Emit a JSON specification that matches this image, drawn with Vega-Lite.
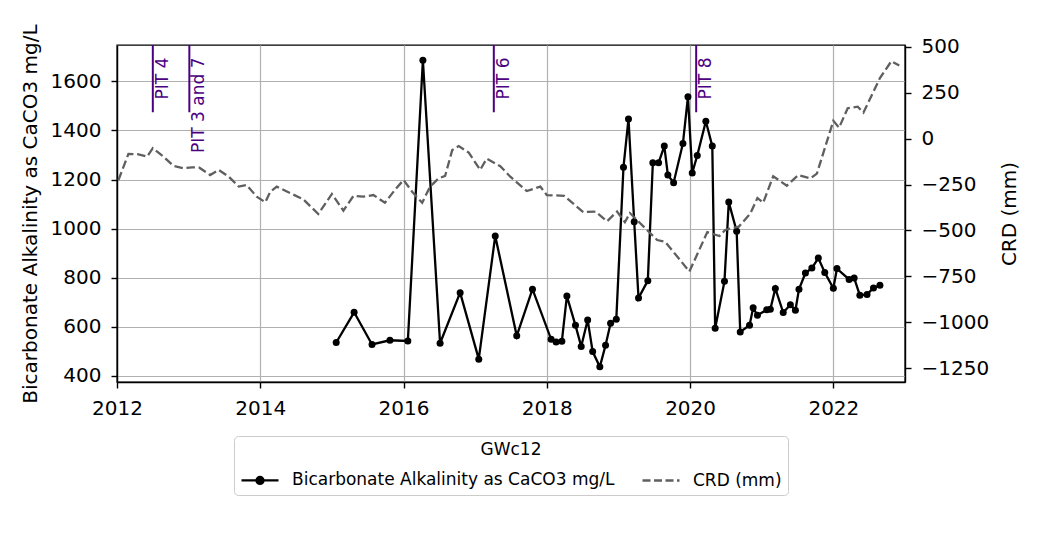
{
  "$schema": "https://vega.github.io/schema/vega-lite/v6.json",
  "width": 788,
  "height": 337,
  "autosize": {"type": "none"},
  "padding": {"left": 117, "top": 45, "right": 144, "bottom": 158},
  "background": "white",
  "config": {
    "font": "DejaVu Sans",
    "view": {"stroke": "black", "strokeWidth": 1.4},
    "axis": {
      "labelFont": "DejaVu Sans", "labelFontSize": 20, "labelColor": "black",
      "titleFont": "DejaVu Sans", "titleFontSize": 20, "titleFontWeight": "normal", "titleColor": "black",
      "domainColor": "black", "domainWidth": 1.4, "tickColor": "black", "tickWidth": 1.4, "tickSize": 6,
      "labelPadding": 10, "gridColor": "#b0b0b0", "gridWidth": 1.2, "gridOpacity": 1, "labelFlush": false
    }
  },
  "datasets": {
    "alk": [
      {"year": 2015.06, "value": 536}, {"year": 2015.31, "value": 659}, {"year": 2015.56, "value": 528},
      {"year": 2015.81, "value": 545}, {"year": 2016.06, "value": 542}, {"year": 2016.27, "value": 1686},
      {"year": 2016.51, "value": 533}, {"year": 2016.79, "value": 739}, {"year": 2017.05, "value": 468},
      {"year": 2017.28, "value": 970}, {"year": 2017.58, "value": 563}, {"year": 2017.80, "value": 753},
      {"year": 2018.06, "value": 549}, {"year": 2018.13, "value": 538}, {"year": 2018.21, "value": 541},
      {"year": 2018.28, "value": 725}, {"year": 2018.40, "value": 606}, {"year": 2018.48, "value": 520},
      {"year": 2018.57, "value": 628}, {"year": 2018.64, "value": 499}, {"year": 2018.74, "value": 437},
      {"year": 2018.82, "value": 525}, {"year": 2018.89, "value": 614}, {"year": 2018.97, "value": 631},
      {"year": 2019.07, "value": 1250}, {"year": 2019.14, "value": 1447}, {"year": 2019.22, "value": 1028},
      {"year": 2019.28, "value": 717}, {"year": 2019.41, "value": 788}, {"year": 2019.48, "value": 1268},
      {"year": 2019.56, "value": 1268}, {"year": 2019.64, "value": 1336}, {"year": 2019.69, "value": 1218},
      {"year": 2019.77, "value": 1187}, {"year": 2019.90, "value": 1347}, {"year": 2019.97, "value": 1537},
      {"year": 2020.03, "value": 1227}, {"year": 2020.10, "value": 1298}, {"year": 2020.22, "value": 1437},
      {"year": 2020.31, "value": 1336}, {"year": 2020.35, "value": 594}, {"year": 2020.48, "value": 785},
      {"year": 2020.54, "value": 1108}, {"year": 2020.65, "value": 989}, {"year": 2020.70, "value": 579},
      {"year": 2020.83, "value": 606}, {"year": 2020.88, "value": 677}, {"year": 2020.94, "value": 647},
      {"year": 2021.07, "value": 669}, {"year": 2021.12, "value": 671}, {"year": 2021.19, "value": 756},
      {"year": 2021.30, "value": 658}, {"year": 2021.40, "value": 690}, {"year": 2021.47, "value": 667},
      {"year": 2021.52, "value": 753}, {"year": 2021.61, "value": 819}, {"year": 2021.70, "value": 839},
      {"year": 2021.79, "value": 880}, {"year": 2021.88, "value": 821}, {"year": 2022.00, "value": 757},
      {"year": 2022.05, "value": 837}, {"year": 2022.22, "value": 793}, {"year": 2022.29, "value": 799},
      {"year": 2022.37, "value": 728}, {"year": 2022.47, "value": 732}, {"year": 2022.56, "value": 758},
      {"year": 2022.65, "value": 769}
    ],
    "crd": [
      {"year": 2012.02, "crd": -225}, {"year": 2012.16, "crd": -83}, {"year": 2012.30, "crd": -85},
      {"year": 2012.42, "crd": -98}, {"year": 2012.50, "crd": -52}, {"year": 2012.65, "crd": -98},
      {"year": 2012.79, "crd": -149}, {"year": 2012.93, "crd": -161}, {"year": 2013.05, "crd": -156},
      {"year": 2013.15, "crd": -158}, {"year": 2013.30, "crd": -198}, {"year": 2013.42, "crd": -170},
      {"year": 2013.56, "crd": -207}, {"year": 2013.70, "crd": -261}, {"year": 2013.81, "crd": -252},
      {"year": 2013.95, "crd": -316}, {"year": 2014.07, "crd": -346}, {"year": 2014.14, "crd": -289},
      {"year": 2014.23, "crd": -261}, {"year": 2014.42, "crd": -297}, {"year": 2014.60, "crd": -330},
      {"year": 2014.81, "crd": -410}, {"year": 2015.00, "crd": -301}, {"year": 2015.16, "crd": -392},
      {"year": 2015.30, "crd": -312}, {"year": 2015.44, "crd": -316}, {"year": 2015.58, "crd": -307},
      {"year": 2015.74, "crd": -349}, {"year": 2015.88, "crd": -279}, {"year": 2016.00, "crd": -225},
      {"year": 2016.12, "crd": -289}, {"year": 2016.26, "crd": -349}, {"year": 2016.37, "crd": -261},
      {"year": 2016.49, "crd": -216}, {"year": 2016.58, "crd": -203}, {"year": 2016.68, "crd": -62},
      {"year": 2016.77, "crd": -40}, {"year": 2016.91, "crd": -76}, {"year": 2017.07, "crd": -170},
      {"year": 2017.16, "crd": -109}, {"year": 2017.35, "crd": -150}, {"year": 2017.49, "crd": -207},
      {"year": 2017.72, "crd": -285}, {"year": 2017.91, "crd": -261}, {"year": 2018.00, "crd": -307},
      {"year": 2018.24, "crd": -311}, {"year": 2018.51, "crd": -400}, {"year": 2018.68, "crd": -397},
      {"year": 2018.84, "crd": -450}, {"year": 2018.98, "crd": -397}, {"year": 2019.09, "crd": -455},
      {"year": 2019.16, "crd": -405}, {"year": 2019.30, "crd": -459}, {"year": 2019.54, "crd": -552},
      {"year": 2019.65, "crd": -561}, {"year": 2019.84, "crd": -651}, {"year": 2019.99, "crd": -724},
      {"year": 2020.24, "crd": -509}, {"year": 2020.41, "crd": -530}, {"year": 2020.49, "crd": -497},
      {"year": 2020.68, "crd": -479}, {"year": 2020.84, "crd": -408}, {"year": 2020.94, "crd": -323},
      {"year": 2021.02, "crd": -349}, {"year": 2021.16, "crd": -205}, {"year": 2021.35, "crd": -256},
      {"year": 2021.51, "crd": -198}, {"year": 2021.68, "crd": -216}, {"year": 2021.77, "crd": -190},
      {"year": 2022.00, "crd": 97}, {"year": 2022.08, "crd": 60}, {"year": 2022.20, "crd": 166},
      {"year": 2022.34, "crd": 174}, {"year": 2022.42, "crd": 142}, {"year": 2022.65, "crd": 330},
      {"year": 2022.81, "crd": 422}, {"year": 2022.92, "crd": 398}
    ],
    "pits": [
      {"year": 2012.50, "label": "PIT 4", "ylow": 1474, "yhigh": 1748, "ytext": 1697},
      {"year": 2013.01, "label": "PIT 3 and 7", "ylow": 1474, "yhigh": 1748, "ytext": 1697},
      {"year": 2017.26, "label": "PIT 6", "ylow": 1474, "yhigh": 1748, "ytext": 1697},
      {"year": 2020.085, "label": "PIT 8", "ylow": 1474, "yhigh": 1748, "ytext": 1697}
    ]
  },
  "layer": [
    {
      "layer": [
        {
          "data": {"name": "alk"},
          "mark": {"type": "line", "strokeWidth": 2.3, "point": {"filled": true, "size": 49}},
          "encoding": {
            "x": {
              "field": "year", "type": "quantitative",
              "scale": {"domain": [2012, 2023], "nice": false, "zero": false},
              "axis": {"values": [2012, 2014, 2016, 2018, 2020, 2022], "format": "d", "title": null, "grid": true, "labelFlush": false}
            },
            "y": {
              "field": "value", "type": "quantitative",
              "scale": {"domain": [375, 1748], "nice": false, "zero": false},
              "axis": {"values": [400, 600, 800, 1000, 1200, 1400, 1600], "format": "d", "title": "Bicarbonate Alkalinity as CaCO3 mg/L", "grid": true, "titlePadding": 10}
            },
            "color": {
              "datum": "Bicarbonate Alkalinity as CaCO3 mg/L", "type": "nominal",
              "scale": {"domain": ["Bicarbonate Alkalinity as CaCO3 mg/L", "CRD (mm)"], "range": ["black", "#5f5f5f"]},
              "legend": {
                "title": "GWc12", "orient": "none", "legendX": 117, "legendY": 391,
                "direction": "horizontal", "titleAnchor": "middle", "titleOrient": "top",
                "symbolSize": 1369, "symbolStrokeWidth": 2.3, "labelOffset": 12, "columnPadding": 22,
                "padding": 6, "strokeColor": "#cccccc", "fillColor": "white", "cornerRadius": 4,
                "titleFont": "DejaVu Sans", "titleFontSize": 17, "titleFontWeight": "normal", "titleColor": "black",
                "labelFont": "DejaVu Sans", "labelFontSize": 17, "labelColor": "black", "labelLimit": 500,
                "titlePadding": 1,
                "encode": {
                  "symbols": {
                    "update": {
                      "shape": {"signal": "datum.value === 'CRD (mm)' ? 'M-1,0L1,0' : 'M-1,0L1,0M-0.19,0A0.19,0.19 0 1,1 0.19,0A0.19,0.19 0 1,1 -0.19,0'"},
                      "strokeDash": {"signal": "datum.value === 'CRD (mm)' ? [8, 3.5] : []"},
                      "fill": {"scale": "color", "field": "value"},
                      "stroke": {"scale": "color", "field": "value"},
                      "strokeWidth": {"value": 2.3},
                      "opacity": {"value": 1}
                    }
                  }
                }
              }
            }
          }
        },
        {
          "data": {"name": "pits"},
          "mark": {"type": "rule", "color": "#4b0082", "strokeWidth": 2},
          "encoding": {
            "x": {"field": "year", "type": "quantitative"},
            "y": {"field": "ylow", "type": "quantitative"},
            "y2": {"field": "yhigh"}
          }
        },
        {
          "data": {"name": "pits"},
          "mark": {"type": "text", "angle": 270, "align": "right", "baseline": "top", "dy": 2, "fontSize": 17, "font": "DejaVu Sans", "color": "#4b0082"},
          "encoding": {
            "x": {"field": "year", "type": "quantitative"},
            "y": {"field": "ytext", "type": "quantitative"},
            "text": {"field": "label"}
          }
        }
      ]
    },
    {
      "data": {"name": "crd"},
      "mark": {"type": "line", "strokeWidth": 2.3, "strokeDash": [8.5, 3.7]},
      "encoding": {
        "x": {"field": "year", "type": "quantitative"},
        "y": {
          "field": "crd", "type": "quantitative",
          "scale": {"domain": [-1325, 510], "nice": false, "zero": false},
          "axis": {"orient": "right", "values": [-1250, -1000, -750, -500, -250, 0, 250, 500], "format": "d", "title": "CRD (mm)", "grid": false, "titlePadding": 11, "titleAngle": 270, "titleBaseline": "top"}
        },
        "color": {"datum": "CRD (mm)", "type": "nominal"}
      }
    }
  ],
  "resolve": {"scale": {"y": "independent"}}
}
